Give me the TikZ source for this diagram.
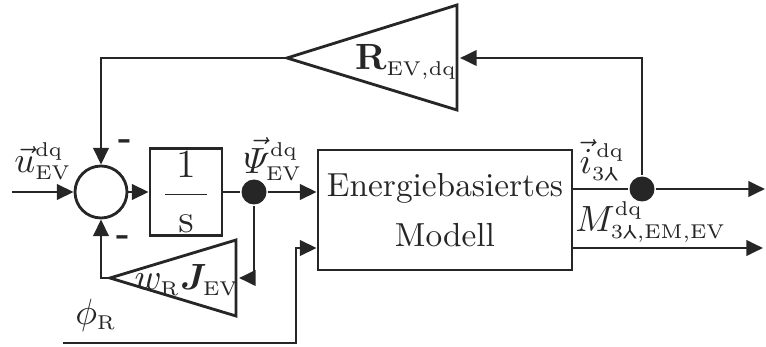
\documentclass[tikz,border=0pt]{standalone}
\usepackage{amsmath,amssymb,bm}
\usepackage{graphicx}
\usetikzlibrary{arrows.meta, positioning, calc}
\DeclareMathSizes{11}{11}{5.8}{4.5}
\newcommand{\stern}{\text{\rotatebox[origin=c]{180}{\textsf{Y}}}}

\begin{document}
\begin{tikzpicture}[
  x=0.3pt, y=0.3pt,
  color=black!85,
  line width=0.85pt,
  font=\fontsize{10}{12}\selectfont,
  blk/.style={draw, inner sep=0pt},
  sumnode/.style={draw, circle, minimum size=15.6pt, inner sep=0pt},
  dot/.style={circle, fill, minimum size=7.5pt, inner sep=0pt},
  lab/.style={font=\fontsize{11}{13}\selectfont, inner sep=0pt},
  sign/.style={font=\fontsize{11}{13}\selectfont\bfseries, inner sep=0pt},
  arr/.style={-{Triangle[length=5pt,width=4.6pt]}}
]
\useasboundingbox (0,0) rectangle (766,-347);

% blocks
\node[sumnode] (sum) at (101,-192) {};
\node[blk, minimum width=21.6pt, minimum height=26.1pt] (integ) at (186,-192) {\fontsize{12}{14}\selectfont$\dfrac{\;1\;}{\mathrm{s}}$};
\node[dot] (psidot) at (254,-192) {};
\node[blk, minimum width=76.2pt, minimum height=36pt, align=center] (model) at (445,-210) {Energiebasiertes\\[3pt]Modell};
\node[dot] (idot) at (642,-189) {};

% gain triangles
\coordinate (Rtip) at (287,-58);
\coordinate (Rbase) at (460,-58);
\draw (Rtip) -- (457,-5) -- (457,-110) -- cycle;
\coordinate (Jtip) at (110,-278);
\coordinate (Jbase) at (239,-278);
\draw (Jtip) -- (236,-240) -- (236,-316) -- cycle;

% labels
\node[lab] (Rlab) at (406,-62) {$\mathbf{R}_{\mathrm{EV,dq}}$};
\node[lab] (Jlab) at (187,-280) {$w_{\mathrm{R}}\bm{J}_{\mathrm{EV}}$};
\node[lab] (ulab) at (43,-161) {$\vec{u}^{\mathrm{dq}}_{\mathrm{EV}}$};
\node[lab] (psilab) at (273,-159) {$\vec{\varPsi}^{\mathrm{dq}}_{\mathrm{EV}}$};
\node[lab] (ilab) at (602,-160) {$\vec{i}^{\,\mathrm{dq}}_{3\stern}$};
\node[lab, anchor=west] (mlab) at (574,-222) {$M^{\mathrm{dq}}_{3\stern,\mathrm{EM,EV}}$};
\node[lab] (philab) at (96,-315) {$\phi_{\mathrm{R}}$};
\node[sign] (mtop) at (125,-145) {-};
\node[sign] (mbot) at (123,-241) {-};

% signals
\coordinate (uin) at (12,-192);
\coordinate (phiin) at (63,-343);
\coordinate (phiup) at (296,-248);
\coordinate (iout) at (765,-189);
\coordinate (mout) at (763,-248);

\draw[arr] (uin) -- (sum.west);
\draw[arr] (sum.east) -- (integ.west);
\draw (integ.east) -- (psidot);
\draw[arr] (psidot) -- (psidot -| model.west);
\draw[arr] (psidot) |- (Jbase);
\draw[arr] (Jtip) -| (sum.south);
\draw[arr] (Rtip) -| (sum.north);
\draw[arr] (phiin) -| (phiup) -- (phiup -| model.west);
\draw (model.east |- idot) -- (idot);
\draw[arr] (idot) -- (iout);
\draw[arr] (idot) |- (Rbase);
\draw[arr] (mout -| model.east) -- (mout);
\end{tikzpicture}
\end{document}
